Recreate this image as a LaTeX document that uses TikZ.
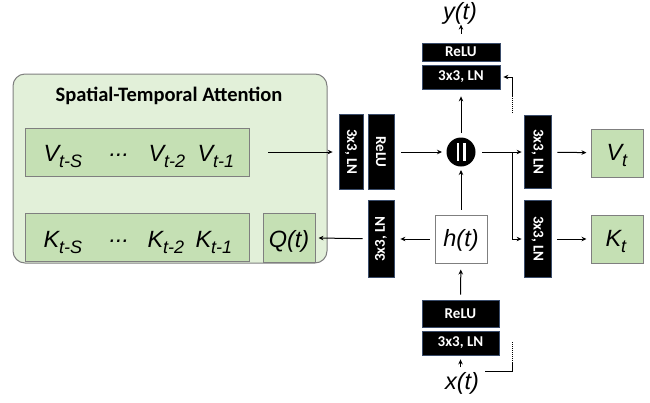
\documentclass[tikz,border=0pt]{standalone}
\usepackage{fontspec}
\setmainfont{Liberation Sans}
\newfontfamily\carl{Carlito}
\usetikzlibrary{arrows.meta}
\definecolor{outerg}{HTML}{E2F0D9}
\definecolor{innerg}{HTML}{C5E0B4}
\definecolor{bord}{HTML}{7F7F7F}
\definecolor{bbord}{HTML}{3A4C6A}
\newcommand\symsub[2]{#1\raisebox{-6pt}{\fontsize{18}{18}\selectfont #2}}
\begin{document}
\begin{tikzpicture}[x=1pt,y=-1pt,
  >={Stealth[length=5pt,width=4.5pt]}, line width=1pt,
  blk/.style={fill=black,draw=bbord,line width=0.8pt,text=white,font=\carl\bfseries\fontsize{15}{15}\selectfont,inner sep=0pt},
  grn/.style={fill=innerg,draw=bord,line width=1pt,inner sep=0pt},
  itl/.style={font=\itshape\fontsize{23.5}{23.5}\selectfont,inner sep=0pt},
  dots/.style={dash pattern=on 1pt off 1pt}]
\useasboundingbox (0,0) rectangle (650,402);

% outer attention box
\node[draw=bord, fill=outerg, rounded corners=12pt, minimum width=314pt, minimum height=189pt, line width=1pt] (sta) at (170,168.5) {};
\node[font=\carl\bfseries\fontsize{20.5}{20.5}\selectfont, inner sep=0pt] (title) at (169,96) {Spatial-Temporal Attention};

\node[grn, minimum width=224pt, minimum height=48pt] (vrow) at (137,152) {};
\node[grn, minimum width=224pt, minimum height=48pt] (krow) at (137,237.5) {};
\node[grn, minimum width=52pt, minimum height=49pt] (q) at (289,237.5) {};
\node[itl, anchor=base] (qlab) at (289,247) {Q(t)};

\node[itl, anchor=base west] (v1) at (43,161) {\symsub{V}{t-S}};
\node[itl, anchor=base west] (v2) at (109,156) {...};
\node[itl, anchor=base west] (v3) at (148,161) {\symsub{V}{t-2}};
\node[itl, anchor=base west] (v4) at (197,161) {\symsub{V}{t-1}};
\node[itl, anchor=base west] (k1) at (43,247) {\symsub{K}{t-S}};
\node[itl, anchor=base west] (k2) at (109,242) {...};
\node[itl, anchor=base west] (k3) at (147,247) {\symsub{K}{t-2}};
\node[itl, anchor=base west] (k4) at (195,247) {\symsub{K}{t-1}};

% left conv / relu
\node[blk, minimum width=75pt, minimum height=24pt, rotate=-90] (lconv) at (351,152) {3x3, LN};
\node[blk, minimum width=75pt, minimum height=26pt, rotate=-90] (lrelu) at (381,152) {ReLU};
\node[blk, minimum width=77pt, minimum height=26pt, rotate=90] (qconv) at (381,239) {3x3, LN};

% concat circle
\node[circle, fill=black, minimum size=29pt, inner sep=0pt] (cat) at (461,152) {};
\fill[white] (456.5,143) rectangle (459,161);
\fill[white] (463,143) rectangle (465.5,161);

% top
\node[blk, minimum width=78pt, minimum height=18pt] (tr) at (461,52) {ReLU};
\node[blk, minimum width=78pt, minimum height=24pt] (tc) at (461,77) {3x3, LN};
\node[itl, anchor=base] (ylab) at (460,19) {y(t)};

% h
\node[draw=bord, fill=white, line width=1pt, minimum width=52pt, minimum height=48pt, inner sep=0pt] (h) at (461,239) {};
\node[itl, anchor=base] (hlab) at (461,246) {h(t)};

% bottom
\node[blk, minimum width=77pt, minimum height=27pt] (br) at (460.5,313.5) {ReLU};
\node[blk, minimum width=77pt, minimum height=24pt] (bc) at (460.5,343) {3x3, LN};
\node[itl, anchor=base] (xlab) at (462,389) {x(t)};

% right
\node[blk, minimum width=73pt, minimum height=27pt, rotate=-90] (vconv) at (537.5,152) {3x3, LN};
\node[blk, minimum width=77pt, minimum height=27pt, rotate=-90] (kconv) at (537.5,239) {3x3, LN};
\node[grn, minimum width=52pt, minimum height=48pt] (vt) at (617,153) {};
\node[itl, anchor=base west] (vtlab) at (606,160) {\symsub{V}{t}};
\node[grn, minimum width=52pt, minimum height=48pt] (kt) at (617,239) {};
\node[itl, anchor=base west] (ktlab) at (605,246) {\symsub{K}{t}};

% coordinates
\coordinate (vstart) at (268,152);
\coordinate (junc) at (512,152);
\coordinate (s1a) at (512,113);
\coordinate (s1b) at (512,97);
\coordinate (s2a) at (512,342);
\coordinate (s2b) at (512,362);
\coordinate (s2c) at (485,371);

% connectors
\draw[->,shorten >=6pt] (vstart) -- (lconv);
\draw[->,shorten <=7pt,shorten >=4pt] (lrelu) -- (cat);
\draw[shorten <=6pt] (cat) -- (junc);
\draw[->,shorten >=2pt] (junc) -- (vconv);
\draw[->,shorten >=2pt] (junc) |- (kconv);
\draw[->,shorten <=6pt,shorten >=4pt] (vconv) -- (vt);
\draw[->,shorten <=6pt,shorten >=4pt] (kconv) -- (kt);
\draw[->,shorten <=4pt,shorten >=7pt] (cat) -- (tc);
\draw[->] ([yshift=9pt]tr.north) -- ([yshift=18pt]tr.north);
\draw[->,shorten <=5pt,shorten >=3pt] (h) -- (cat);
\draw[->,shorten <=5pt,shorten >=6pt] (br) -- (h);
\draw[->] ([yshift=-12pt]bc.south) -- ([yshift=-4pt]bc.south);
\draw[->,shorten <=5pt,shorten >=6pt] (h) -- (qconv);
\draw[->,shorten <=5pt,shorten >=3pt] (qconv) -- (q);
\draw[dots] (s1a) -- (s1b);
\draw[->,shorten >=3pt] (s1b) |- (tc);
\draw[dots] (s2a) -- (s2b);
\draw (s2b) |- (s2c);
\end{tikzpicture}
\end{document}
